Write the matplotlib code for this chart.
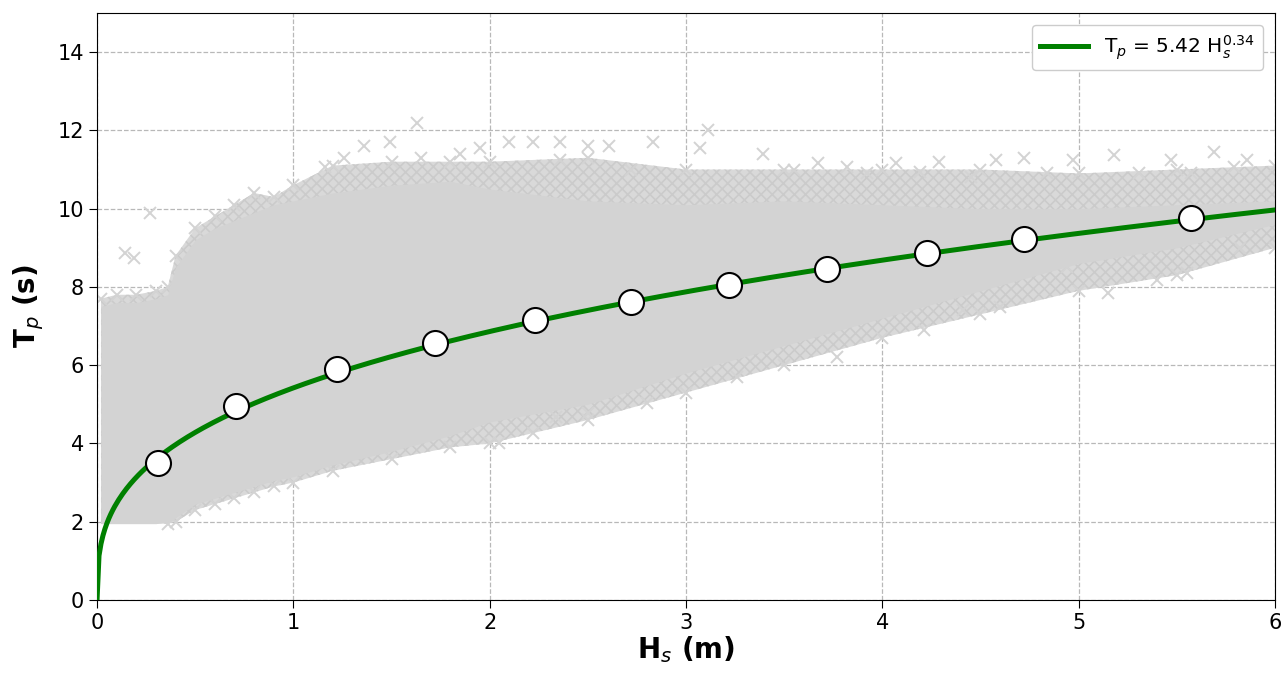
import matplotlib
matplotlib.use("Agg")
import matplotlib.pyplot as plt
import numpy as np

# envelope of the Hs-Tp hindcast cloud
env_h = [0.02, 0.1, 0.2, 0.3, 0.36, 0.4, 0.5, 0.6, 0.7, 0.8, 0.9, 1.0,
         1.2, 1.5, 1.8, 2.0, 2.5, 3.0, 3.5, 4.0, 4.5, 5.0, 5.5, 6.0]
core_top = [7.5, 7.6, 7.6, 7.7, 7.8, 8.5, 9.2, 9.5, 9.7, 9.9, 10.1, 10.2,
            10.4, 10.6, 10.7, 10.5, 10.2, 10.1, 10.2, 10.1, 10.0, 10.0, 10.1, 10.2]
outer_top = [7.7, 7.8, 7.8, 7.9, 8.0, 8.8, 9.5, 9.8, 10.1, 10.4, 10.3, 10.6,
             11.1, 11.2, 11.2, 11.2, 11.3, 11.0, 11.0, 11.0, 11.0, 10.9, 11.0, 11.1]
core_bot = [1.95, 1.95, 1.95, 1.95, 2.0, 2.1, 2.45, 2.6, 2.75, 2.9, 3.05, 3.15,
            3.45, 3.8, 4.2, 4.55, 5.0, 5.8, 6.5, 7.2, 7.9, 8.6, 9.0, 9.6]
outer_bot = [1.95, 1.95, 1.95, 1.95, 1.95, 2.0, 2.3, 2.45, 2.6, 2.75, 2.9, 3.0,
             3.3, 3.6, 3.9, 4.0, 4.6, 5.3, 6.0, 6.7, 7.3, 7.9, 8.3, 9.0]

# isolated sea states outside the main cloud
out_h = [0.27, 0.14, 0.19, 1.63, 1.49, 1.36, 1.26, 1.65, 1.85, 1.95, 1.16,
         3.11, 3.07, 2.83, 3.39, 3.67, 2.10, 2.22, 2.36, 2.50, 2.61, 2.36,
         2.72, 3.55, 3.82, 3.92, 4.07, 4.29, 4.58, 4.72, 4.97, 5.18, 5.47,
         5.69, 5.86, 5.79, 4.19, 4.45, 4.84, 5.31, 5.57, 5.55, 5.82, 4.21,
         4.60, 5.15, 5.40, 4.94, 4.41, 2.22, 2.34, 2.80, 3.26, 3.77, 2.05, 2.50]
out_t = [9.9, 8.87, 8.74, 12.2, 11.7, 11.6, 11.3, 11.3, 11.4, 11.55, 11.06,
         12.0, 11.55, 11.7, 11.4, 11.16, 11.7, 11.7, 11.7, 11.6, 11.6, 11.24,
         11.0, 11.0, 11.06, 10.9, 11.16, 11.2, 11.24, 11.3, 11.24, 11.37, 11.24,
         11.45, 11.24, 11.06, 10.93, 10.8, 10.9, 10.9, 10.9, 8.35, 9.0, 6.9,
         7.49, 7.84, 8.18, 8.5, 7.4, 4.27, 4.68, 5.03, 5.7, 6.2, 4.0, 4.78]

# bin-averaged Tp
bin_h = [0.31, 0.71, 1.22, 1.72, 2.23, 2.72, 3.22, 3.72, 4.23, 4.72, 5.57]
bin_t = [3.50, 4.96, 5.90, 6.57, 7.15, 7.61, 8.05, 8.46, 8.87, 9.22, 9.76]

# fitted power law Tp = a * Hs^b
fit_a = 5.42
fit_b = 0.34

cloud = "#d3d3d3"

fig = plt.figure(figsize=(12.82, 6.73), dpi=100)
ax = fig.add_axes([0.0757, 0.1085, 0.9188, 0.8722])

plt.rcParams["hatch.linewidth"] = 1.2
# ragged outer band: sparser scatter around the dense core
ax.fill_between(env_h, outer_bot, outer_top, facecolor="#d9d9d9", edgecolor="#cbcbcb",
                hatch="xxx", linewidth=0, zorder=2)
ax.fill_between(env_h, core_bot, core_top, color=cloud, linewidth=0, zorder=2)
ax.plot(env_h, outer_top, "x", color=cloud, ms=9, mew=1.4, zorder=2)
ax.plot(env_h[4:], outer_bot[4:], "x", color=cloud, ms=9, mew=1.4, zorder=2)
ax.plot(out_h, out_t, "x", color=cloud, ms=9, mew=1.4, zorder=2)

hs = np.linspace(0, 6, 600)
ax.plot(hs, fit_a * hs ** fit_b, color="green", lw=3.6, zorder=3,
        label=r"T$_p$ = 5.42 H$_s^{0.34}$")
ax.plot(bin_h, bin_t, "o", ms=18, mfc="white", mec="black", mew=1.5, zorder=4)

ax.set_xlim(0, 6)
ax.set_ylim(0, 15)
ax.set_xticks(range(0, 7))
ax.set_yticks(range(0, 15, 2))
ax.tick_params(labelsize=15, length=6)
ax.set_axisbelow(True)
ax.grid(True, linestyle="--", color="#b8b8b8", linewidth=0.9)

ax.set_xlabel(r"H$_s$ (m)", fontsize=20, fontweight="bold", labelpad=1)
ax.set_ylabel(r"T$_p$ (s)", fontsize=20, fontweight="bold", labelpad=8)

ax.legend(loc="upper right", fontsize=14.5, handlelength=2.4, framealpha=1,
          borderaxespad=0.6)

fig.savefig("out.png", dpi=100)
